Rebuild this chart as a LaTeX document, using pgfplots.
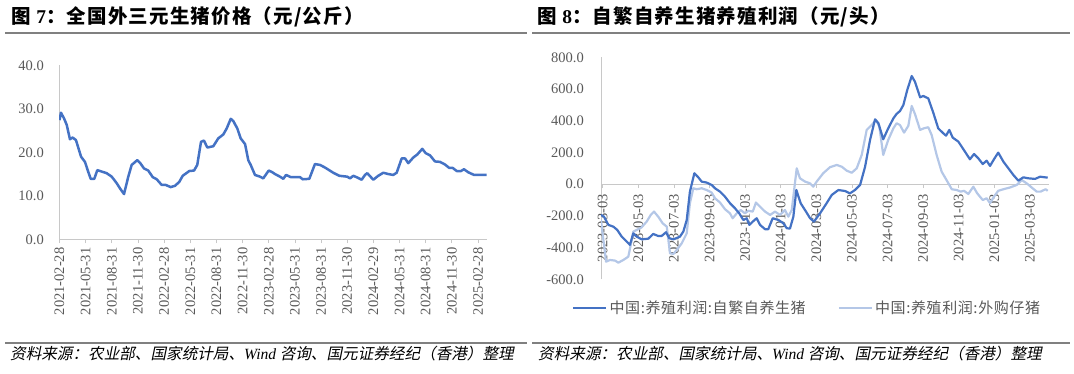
\documentclass[border=0pt]{standalone}
\usepackage{pgfplots}
\pgfplotsset{compat=1.18}
\usepackage{fontspec}
\setmainfont{Liberation Serif}
\newfontfamily\cjk{Noto Sans CJK SC}[LetterSpace=6]
\newfontfamily\cjkit{Noto Sans CJK SC}[FakeSlant=0.2]
\newfontfamily\cjkleg{Noto Sans CJK SC}[LetterSpace=4]
\definecolor{dblue}{RGB}{68,114,196}
\definecolor{lblue}{RGB}{180,199,231}
\definecolor{tickgray}{RGB}{89,89,89}
\definecolor{axgray}{RGB}{200,200,200}
\definecolor{rulegray}{RGB}{128,128,128}

\pgfplotsset{
 mystyle/.style={
  scale only axis,
  axis line style={axgray, line width=0.8pt},
  tick label style={font=\fontsize{14.5}{14.5}\selectfont, text=tickgray},
  /pgf/number format/fixed,
  /pgf/number format/fixed zerofill,
  /pgf/number format/precision=1,
  /pgf/number format/assume math mode=true,
  ytick style={draw=none},
  xtick style={axgray, line width=0.8pt},
  major tick length=4pt,
  xtick align=outside,
  xticklabel style={rotate=90, anchor=east, inner sep=0pt},
  yticklabel style={anchor=east, inner sep=0pt},
 }
}

\begin{document}
\begin{tikzpicture}[x=1pt,y=1pt]
\path[use as bounding box] (0,0) rectangle (1074,373);

% titles and rules
\node[anchor=base west, inner sep=0] at (11,349) {\fontsize{19.5}{19.5}\cjk\bfseries 图 {\rmfamily\bfseries 7}：全国外三元生猪价格（元/公斤）};
\node[anchor=base west, inner sep=0] at (537,349) {\fontsize{19.5}{19.5}\cjk\bfseries 图 {\rmfamily\bfseries 8}：自繁自养生猪养殖利润（元/头）};
\draw[rulegray, line width=1.5pt] (5,340) -- (527,340);
\draw[rulegray, line width=1.5pt] (532,340) -- (1070,340);
\draw[rulegray, line width=1.5pt] (5,30) -- (527,30);
\draw[rulegray, line width=1.5pt] (532,30) -- (1070,30);
\node[anchor=base west, inner sep=0] at (10,14) {\fontsize{15.6}{15.6}\cjkit 资料来源：农业部、国家统计局、{\rmfamily\itshape Wind} 咨询、国元证券经纪（香港）整理};
\node[anchor=base west, inner sep=0] at (538,14) {\fontsize{15.6}{15.6}\cjkit 资料来源：农业部、国家统计局、{\rmfamily\itshape Wind} 咨询、国元证券经纪（香港）整理};

% left chart
\begin{axis}[mystyle,
  at={(59.06pt,133.7pt)}, anchor=south west,
  width=428.1pt, height=174pt,
  xmin=-0.05, xmax=49.05, ymin=0, ymax=40,
  ytick={0,10,20,30,40},
  xtick={0,3,...,48},
  xticklabels={2021-02-28,2021-05-31,2021-08-31,2021-11-30,2022-02-28,2022-05-31,2022-08-31,2022-11-30,2023-02-28,2023-05-31,2023-08-31,2023-11-30,2024-02-29,2024-05-31,2024-08-31,2024-11-30,2025-02-28},
  axis x line*=bottom, axis y line*=left,
  xticklabel shift=4pt, yticklabel shift=15pt,
]
\addplot[dblue, line width=2.5pt, line join=round] coordinates {
(0,27.4) (0.17,29.1) (0.52,27.8) (0.83,26.3) (1.20,23.0) (1.51,23.4) (1.89,22.8) (2.47,19.0) (2.92,17.8) (3.30,15.5)
(3.58,13.9) (3.99,13.9) (4.34,15.9) (5.41,15.2) (5.99,14.4) (6.56,12.9) (6.94,11.7) (7.40,10.4) (7.89,14.4) (8.28,17.1)
(8.92,18.2) (9.23,17.6) (9.69,16.3) (10.18,15.8) (10.69,14.3) (11.15,13.8) (11.72,12.5) (12.18,12.5) (12.75,12.0) (13.25,12.3)
(13.74,13.2) (14.13,14.6) (14.89,15.7) (15.43,15.8) (15.80,17.1) (16.23,22.4) (16.57,22.7) (16.95,21.1) (17.64,21.4) (18.21,23.2)
(18.79,24.1) (19.18,25.5) (19.64,27.7) (19.93,27.2) (20.39,25.5) (20.78,23.2) (21.28,21.9) (21.65,18.2) (21.93,17.1) (22.42,14.8)
(23.00,14.4) (23.37,14.0) (23.99,15.8) (24.34,15.5) (24.72,15.0) (25.29,14.4) (25.67,13.9) (25.98,14.8) (26.52,14.3) (27.58,14.3)
(27.89,13.8) (28.65,13.9) (29.30,17.3) (29.88,17.1) (30.45,16.5) (31.40,15.3) (32.09,14.6) (33.01,14.4) (33.32,14.0) (33.70,14.6)
(34.16,14.2) (34.66,13.7) (35.04,14.8) (35.30,15.2) (35.99,13.7) (36.56,14.6) (37.14,15.3) (37.71,15.0) (38.28,14.8) (38.67,15.3)
(39.25,18.6) (39.63,18.6) (40.00,17.5) (40.58,18.8) (41.04,19.5) (41.61,20.8) (42.00,19.8) (42.49,19.3) (43.07,17.9) (43.64,17.8)
(44.21,17.2) (44.71,16.4) (45.10,16.4) (45.56,15.7) (46.05,15.7) (46.39,16.1) (46.89,15.4) (47.54,14.8) (48.23,14.8) (49.0,14.8)
};
\end{axis}

% right chart
\begin{axis}[mystyle,
  at={(601pt,93.7pt)}, anchor=south west,
  width=447.6pt, height=222pt,
  xmin=-0.0955, xmax=25.05, ymin=-600, ymax=800,
  ytick={-600,-400,...,800},
  xtick={0,2,...,24},
  xticklabels={2023-03-03,2023-05-03,2023-07-03,2023-09-03,2023-11-03,2024-01-03,2024-03-03,2024-05-03,2024-07-03,2024-09-03,2024-11-03,2025-01-03,2025-03-03},
  axis x line*=middle, axis y line*=left,
  xticklabel shift=6pt, yticklabel shift=17pt,
  legend columns=2,
  legend image code/.code={\draw[#1] (0pt,0pt) -- (33pt,0pt);},
  legend style={at={(axis description cs:-0.0648,-0.129)}, anchor=west, draw=none, fill=none, inner sep=0pt,
    font=\fontsize{15}{15}\cjkleg, text=tickgray,
    /tikz/every even column/.append style={column sep=30pt}},
]
\addlegendimage{dblue, line width=2.4pt}
\addlegendentry{中国:养殖利润:自繁自养生猪}
\addlegendimage{lblue, line width=2.4pt}
\addlegendentry{中国:养殖利润:外购仔猪}
\addplot[lblue, line width=2.2pt, line join=round, forget plot] coordinates {
(-0.1,-226) (0.04,-352) (0.19,-489) (0.41,-478) (0.69,-482) (0.88,-495) (1.16,-478) (1.44,-457) (1.63,-352) (1.72,-299)
(1.91,-289) (2.19,-272) (2.47,-236) (2.70,-194) (2.88,-173) (3.12,-205) (3.37,-247) (3.60,-268) (3.78,-436) (3.97,-440)
(4.16,-415) (4.44,-373) (4.72,-310) (4.90,-120) (5.09,-26) (5.28,-32) (5.56,-26) (5.84,-37) (6.12,-53) (6.31,-89)
(6.59,-116) (6.87,-158) (7.15,-184) (7.30,-215) (7.53,-184) (7.75,-163) (7.99,-184) (8.18,-168) (8.43,-173) (8.61,-116)
(8.84,-142) (9.12,-173) (9.40,-194) (9.68,-173) (9.96,-194) (10.24,-163) (10.43,-205) (10.62,-163) (10.80,7) (10.90,100)
(11.08,37) (11.37,16) (11.65,5) (11.83,-16) (12.02,16) (12.39,69) (12.77,107) (13.15,121) (13.43,110) (13.71,85)
(13.99,72) (14.27,100) (14.55,184) (14.83,342) (15.11,373) (15.35,405) (15.54,363) (15.76,184) (16.04,279) (16.33,352)
(16.51,384) (16.70,373) (16.93,325) (17.17,368) (17.36,493) (17.54,443) (17.83,342) (18.04,352) (18.29,359) (18.48,310)
(18.76,184) (19.04,79) (19.29,31) (19.61,-32) (19.89,-37) (20.11,-47) (20.30,-42) (20.54,-62) (20.82,-16) (21.04,-58)
(21.35,-100) (21.57,-89) (21.76,-120) (21.98,-79) (22.22,-42) (22.51,-32) (22.88,-21) (23.26,-5) (23.54,26) (23.82,5)
(24.10,-21) (24.38,-47) (24.60,-47) (24.88,-32) (25.0,-42)
};
\addplot[dblue, line width=2.2pt, line join=round, forget plot] coordinates {
(-0.1,-194) (0.07,-205) (0.32,-257) (0.6,-268) (0.82,-289) (1.07,-331) (1.35,-362) (1.53,-383) (1.72,-310) (1.91,-331)
(2.19,-348) (2.56,-344) (2.84,-314) (3.12,-327) (3.31,-327) (3.56,-303) (3.74,-341) (3.97,-348) (4.34,-331) (4.53,-299)
(4.72,-226) (4.90,-47) (5.15,69) (5.37,43) (5.56,16) (5.84,10) (6.12,-5) (6.31,-26) (6.59,-47) (6.87,-79)
(7.15,-120) (7.43,-152) (7.67,-184) (7.90,-226) (8.09,-215) (8.24,-257) (8.43,-236) (8.65,-215) (8.84,-257) (9.12,-284)
(9.30,-284) (9.55,-215) (9.87,-226) (10.15,-247) (10.34,-278) (10.52,-280) (10.71,-205) (10.88,-37) (11.12,-120) (11.42,-173)
(11.65,-215) (11.87,-236) (12.21,-184) (12.58,-120) (12.87,-68) (13.24,-37) (13.61,-43) (13.89,-58) (14.17,-37) (14.46,-5)
(14.74,110) (15.02,279) (15.30,409) (15.49,384) (15.76,283) (16.04,352) (16.33,415) (16.51,443) (16.70,461) (16.89,499)
(17.11,594) (17.36,682) (17.54,646) (17.83,548) (18.01,556) (18.29,541) (18.57,451) (18.85,352) (19.13,321) (19.29,306)
(19.47,342) (19.66,294) (19.98,268) (20.17,236) (20.63,157) (20.86,190) (21.10,163) (21.35,127) (21.57,148) (21.76,115)
(21.98,157) (22.22,199) (22.51,142) (22.79,100) (23.07,58) (23.35,22) (23.63,43) (23.91,37) (24.29,33) (24.57,47) (25.0,41)
};
\end{axis}
\end{tikzpicture}
\end{document}
